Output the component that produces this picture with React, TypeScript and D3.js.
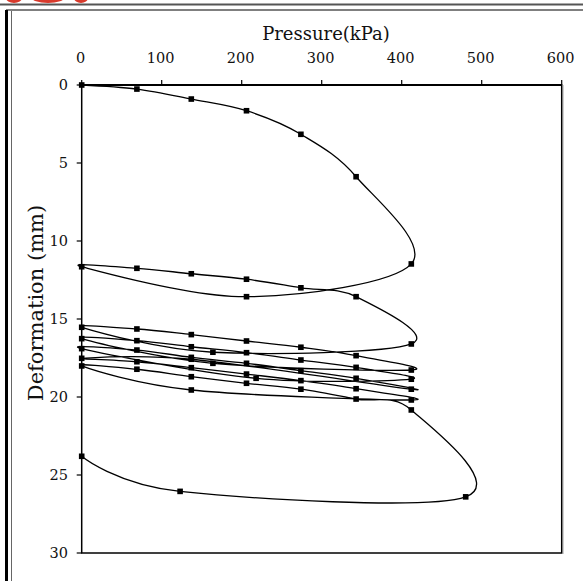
import React from "react";
import * as d3 from "d3";

// axis ticks
const pressureTicks = [0, 100, 200, 300, 400, 500, 600];
const deformationTicks = [0, 5, 10, 15, 20, 25, 30];

// loading / unloading cycles, in test order
const pressure = [
  0, 69, 137, 206, 274, 343, 412,
  206, 0,
  69, 137, 206, 274, 343, 412,
  164, 0,
  69, 137, 206, 274, 343, 412,
  164, 0,
  69, 137, 206, 274, 343, 412,
  218, 0,
  69, 137, 206, 274, 343, 412,
  137, 0,
  69, 137, 206, 274, 343, 412,
  137, 0,
  69, 137, 206, 274, 343, 412, 480,
  123, 0
];
const deformation = [
  0, 0.26, 0.9, 1.65, 3.16, 5.88, 11.47,
  13.57, 11.65,
  11.75, 12.1, 12.45, 13.0, 13.57, 16.6,
  17.13, 15.53,
  15.64, 16.0, 16.41, 16.81, 17.35, 18.27,
  17.84, 16.26,
  16.39, 16.78, 17.16, 17.63, 18.1, 18.86,
  18.8, 16.9,
  16.99, 17.46, 17.84, 18.31, 18.8, 19.5,
  17.58, 17.52,
  17.74, 18.12, 18.53, 18.95, 19.47, 20.19,
  19.55, 18.01,
  18.22, 18.7, 19.12, 19.5, 20.13, 20.83, 26.4,
  26.05, 23.8
];

const width = 583;
const height = 581;
const plot = { left: 81.7, right: 561.7, top: 85, bottom: 553 };
const font = "'DejaVu Serif', serif";

export default function App() {
  const x = d3.scaleLinear().domain([0, 600]).range([plot.left, plot.right]);
  const y = d3.scaleLinear().domain([0, 30]).range([plot.top, plot.bottom]);

  const points: [number, number][] = pressure.map((p, i) => [p, deformation[i]]);
  const line = d3
    .line<[number, number]>()
    .x(d => x(d[0]))
    .y(d => y(d[1]))
    .curve(d3.curveCardinal.tension(0));

  return (
    <svg
      width={width}
      height={height}
      style={{ position: "absolute", left: 0, top: 0, background: "#fff" }}
    >
      {/* page frame bits */}
      <g fill="#d83a2c">
        <ellipse cx={14} cy={-2} rx={8} ry={5} />
        <ellipse cx={48} cy={-3} rx={17} ry={6} />
        <ellipse cx={81} cy={-2} rx={7} ry={5} />
      </g>
      <line x1={0} x2={width} y1={4.5} y2={4.5} stroke="#555" strokeWidth={2} />
      <line x1={6} x2={width} y1={10} y2={10} stroke="#000" strokeWidth={1} />
      <line x1={6.5} x2={6.5} y1={10} y2={height} stroke="#000" strokeWidth={3} />
      <line x1={11.5} x2={11.5} y1={11} y2={height} stroke="#666" strokeWidth={1} />

      {/* plot box */}
      <line x1={plot.right + 1.5} x2={plot.right + 1.5} y1={plot.top} y2={plot.bottom + 1} stroke="#bbb" strokeWidth={1} />
      <rect
        x={plot.left}
        y={plot.top}
        width={plot.right - plot.left}
        height={plot.bottom - plot.top}
        fill="none"
        stroke="#000"
        strokeWidth={1.5}
      />
      <line x1={plot.left} x2={plot.right} y1={plot.top} y2={plot.top} stroke="#000" strokeWidth={2.2} />

      {/* top axis */}
      {pressureTicks.map(t => (
        <g key={"x" + t}>
          <line x1={x(t)} x2={x(t)} y1={plot.top} y2={plot.top - 5} stroke="#000" strokeWidth={1.2} />
          <text
            x={x(t) - 1}
            y={63}
            textAnchor="middle"
            fontFamily={font}
            fontSize={14.5}
            fill="#111"
          >
            {t}
          </text>
        </g>
      ))}
      <text x={326} y={40} textAnchor="middle" fontFamily={font} fontSize={18} fill="#111">
        Pressure(kPa)
      </text>

      {/* left axis */}
      {deformationTicks.map(t => (
        <g key={"y" + t}>
          <line x1={plot.left} x2={plot.left - 5} y1={y(t)} y2={y(t)} stroke="#000" strokeWidth={1.2} />
          <text
            x={68}
            y={y(t) + 5}
            textAnchor="end"
            fontFamily={font}
            fontSize={14.5}
            fill="#111"
          >
            {t}
          </text>
        </g>
      ))}
      <text
        transform={`translate(43,303) rotate(-90)`}
        textAnchor="middle"
        fontFamily={font}
        fontSize={21}
        fill="#111"
      >
        Deformation (mm)
      </text>

      {/* curve and markers */}
      <path d={line(points) ?? ""} fill="none" stroke="#000" strokeWidth={1.3} />
      {points.map((d, i) => (
        <rect
          key={i}
          x={x(d[0]) - 2.8}
          y={y(d[1]) - 2.8}
          width={5.6}
          height={5.6}
          fill="#000"
        />
      ))}
    </svg>
  );
}
